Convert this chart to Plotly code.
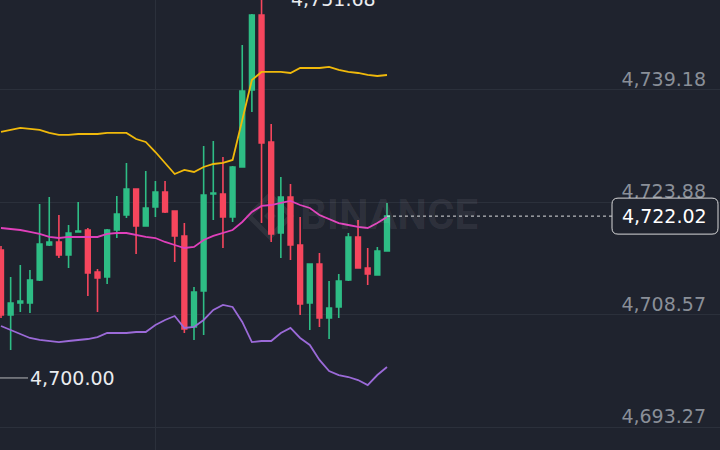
import plotly.graph_objects as go

# ---------------- data ----------------
idx = list(range(41))
opens = [4717.41, 4708.57, 4710.20, 4710.20, 4713.33, 4718.09, 4718.50, 4716.73, 4719.86, 4720.13,
         4714.42, 4713.74, 4720.13, 4722.17, 4725.71, 4720.68, 4723.26, 4725.30, 4722.72, 4719.32,
         4706.94, 4711.83, 4725.03, 4725.03, 4721.90, 4728.70, 4739.18, 4749.38, 4732.11, 4719.72,
         4724.62, 4718.09, 4710.20, 4715.51, 4708.16, 4709.66, 4713.33, 4719.18, 4714.96, 4714.01,
         4717.28]
highs = [4717.96, 4713.74, 4715.37, 4714.69, 4723.67, 4724.62, 4722.17, 4720.81, 4723.94, 4720.40,
         4714.83, 4720.27, 4724.76, 4729.25, 4725.80, 4728.16, 4726.80, 4726.80, 4722.80, 4721.08,
         4712.38, 4731.56, 4732.24, 4730.06, 4728.84, 4745.30, 4749.50, 4751.68, 4734.55, 4727.34,
         4726.39, 4721.90, 4715.60, 4717.00, 4713.19, 4714.15, 4719.72, 4721.49, 4717.68, 4717.82,
         4723.81]
lows = [4708.16, 4703.81, 4708.98, 4708.84, 4713.20, 4717.96, 4716.32, 4714.96, 4719.80, 4711.15,
        4708.98, 4712.79, 4719.04, 4721.77, 4716.87, 4720.60, 4721.90, 4722.45, 4715.78, 4706.12,
        4705.17, 4705.85, 4721.49, 4717.68, 4721.22, 4728.60, 4736.19, 4721.08, 4718.50, 4716.32,
        4716.05, 4708.57, 4706.53, 4706.94, 4705.30, 4708.16, 4713.20, 4714.90, 4712.65, 4713.90,
        4717.20]
closes = [4708.57, 4710.20, 4710.47, 4713.33, 4718.23, 4718.50, 4716.73, 4719.72, 4720.00, 4714.28,
          4713.60, 4720.13, 4722.31, 4725.71, 4720.68, 4723.13, 4725.30, 4722.58, 4719.32, 4706.66,
          4711.70, 4724.89, 4725.17, 4721.90, 4728.70, 4739.04, 4749.38, 4731.97, 4719.59, 4724.62,
          4718.09, 4710.06, 4715.51, 4708.16, 4709.52, 4713.19, 4719.18, 4714.96, 4714.15, 4717.28,
          4722.02]

boll_up = [4733.47, 4733.74, 4734.01, 4733.88, 4733.74, 4733.33, 4733.06, 4733.06, 4733.19, 4733.19,
           4733.19, 4733.33, 4733.33, 4733.33, 4732.51, 4732.11, 4730.74, 4729.25, 4727.75, 4728.30,
           4728.02, 4728.70, 4729.11, 4729.25, 4729.66, 4735.10, 4740.54, 4741.63, 4741.63, 4741.63,
           4741.49, 4742.17, 4742.17, 4742.17, 4742.31, 4741.90, 4741.63, 4741.49, 4741.22, 4741.08,
           4741.22]
boll_mid = [4720.40, 4720.27, 4720.13, 4719.86, 4719.59, 4719.18, 4719.04, 4719.18, 4719.18, 4719.18,
            4719.18, 4719.59, 4719.72, 4719.72, 4719.45, 4719.18, 4719.04, 4718.50, 4718.09, 4717.68,
            4717.82, 4718.77, 4719.32, 4719.72, 4720.13, 4721.22, 4722.58, 4723.40, 4723.53, 4723.81,
            4724.08, 4723.53, 4723.13, 4722.17, 4721.63, 4721.08, 4720.81, 4720.54, 4720.40, 4721.08,
            4721.90]
boll_dn = [4707.07, 4706.53, 4705.98, 4705.44, 4705.17, 4705.03, 4704.89, 4705.03, 4705.17, 4705.30,
           4705.57, 4706.12, 4706.12, 4706.12, 4706.25, 4706.25, 4707.21, 4707.89, 4708.43, 4706.80,
           4706.94, 4707.89, 4709.25, 4709.93, 4709.66, 4707.62, 4704.89, 4705.03, 4705.03, 4706.12,
           4706.80, 4705.44, 4704.49, 4702.45, 4700.95, 4700.40, 4700.13, 4699.72, 4699.04, 4700.40,
           4701.49]

price_ticks = [4693.27, 4708.57, 4723.88, 4739.18]
high_mark = 4751.68
high_idx = 27
low_mark = 4700.00
last_price = closes[-1]

# ---------------- style ----------------
BG = "#1f232e"
GRID = "#2b303b"
GREEN = "#2ebd85"
RED = "#f6465d"
FONT = "DejaVu Sans, sans-serif"

fig = go.Figure()
fig.add_trace(go.Candlestick(
    x=idx, open=opens, high=highs, low=lows, close=closes,
    increasing=dict(line=dict(color=GREEN, width=1.6), fillcolor=GREEN),
    decreasing=dict(line=dict(color=RED, width=1.6), fillcolor=RED),
    whiskerwidth=0, showlegend=False, hoverinfo="skip"))

for vals, col in [(boll_up, "#f0b90b"), (boll_mid, "#e040bb"), (boll_dn, "#9b6ad8")]:
    fig.add_trace(go.Scatter(x=idx, y=vals, mode="lines",
                             line=dict(color=col, width=1.8), showlegend=False,
                             hoverinfo="skip"))

shapes = []
# current price dashed line
shapes.append(dict(type="line", xref="x", yref="y", x0=idx[-1], x1=63.3,
                   y0=last_price, y1=last_price,
                   line=dict(color="rgba(255,255,255,0.85)", width=1, dash="3px,3px")))
# rounded box around current price
r = 6
x0, x1, y0, y1 = -108, -2, -18, 18
path = (f"M {x0+r},{y0} L {x1-r},{y0} Q {x1},{y0} {x1},{y0+r} L {x1},{y1-r} "
        f"Q {x1},{y1} {x1-r},{y1} L {x0+r},{y1} Q {x0},{y1} {x0},{y1-r} "
        f"L {x0},{y0+r} Q {x0},{y0} {x0+r},{y0} Z")
shapes.append(dict(type="path", xref="paper", yref="y", xsizemode="pixel", ysizemode="pixel",
                   xanchor=1, yanchor=last_price, path=path, fillcolor=BG,
                   line=dict(color="rgba(235,235,235,0.9)", width=1)))
# low marker line
shapes.append(dict(type="line", xref="x", yref="y", x0=-2, x1=2.8, y0=low_mark, y1=low_mark,
                   line=dict(color="rgba(220,220,220,0.8)", width=1)))
# watermark logo
wm = "rgba(255,255,255,0.07)"
shapes.append(dict(type="path", xref="paper", yref="paper", xsizemode="pixel", ysizemode="pixel",
                   xanchor=270 / 720, yanchor=(450 - 216) / 450,
                   path="M 0,21 L 21,0 L 0,-21 L -21,0 Z",
                   line=dict(color=wm, width=5), fillcolor="rgba(0,0,0,0)", layer="below"))
shapes.append(dict(type="path", xref="paper", yref="paper", xsizemode="pixel", ysizemode="pixel",
                   xanchor=270 / 720, yanchor=(450 - 216) / 450,
                   path="M 0,6 L 6,0 L 0,-6 L -6,0 Z",
                   line=dict(color=wm, width=0), fillcolor=wm, layer="below"))

annotations = [
    dict(text="BINANCE", xref="paper", yref="paper", x=389 / 720, y=(450 - 215) / 450,
         showarrow=False, font=dict(family="Roboto", size=42, color="rgba(255,255,255,0.07)",
                                     weight="bold"), xanchor="center", yanchor="middle"),
    dict(text=f"{high_mark:,.2f}", x=high_idx, y=1, xref="x", yref="paper",
         showarrow=False, xanchor="left", yanchor="middle", xshift=27, yshift=1,
         font=dict(family=FONT, size=19, color="#eaecef")),
    dict(text=f"{low_mark:,.2f}", x=2.8, y=low_mark, xref="x", yref="y",
         showarrow=False, xanchor="left", yanchor="middle", xshift=0,
         font=dict(family=FONT, size=19, color="#eaecef")),
    dict(text=f"{last_price:,.2f}", x=1, y=last_price, xref="paper", yref="y",
         showarrow=False, xanchor="right", yanchor="middle", xshift=-11,
         font=dict(family=FONT, size=19, color="#ffffff")),
]

fig.update_layout(
    width=720, height=450, autosize=False,
    margin=dict(l=0, r=0, t=0, b=0),
    paper_bgcolor=BG, plot_bgcolor=BG,
    showlegend=False, shapes=shapes, annotations=annotations,
    boxgap=0.3,
    xaxis=dict(range=[-0.104, 74.51], showgrid=True, gridcolor=GRID, gridwidth=1,
               tickvals=[16], showticklabels=False, zeroline=False, showline=False,
               rangeslider=dict(visible=False), fixedrange=True),
    yaxis=dict(range=[4690.20, 4751.42], side="right", tickvals=price_ticks,
               tickformat=",.2f", ticklabelposition="inside", showgrid=True,
               gridcolor=GRID, gridwidth=1, zeroline=False, showline=False,
               ticklabelstandoff=11, ticklabelshift=-11,
               tickfont=dict(family=FONT, size=19, color="#8a8f98"), fixedrange=True),
)

fig.write_html("out.html", config={"displayModeBar": False})
